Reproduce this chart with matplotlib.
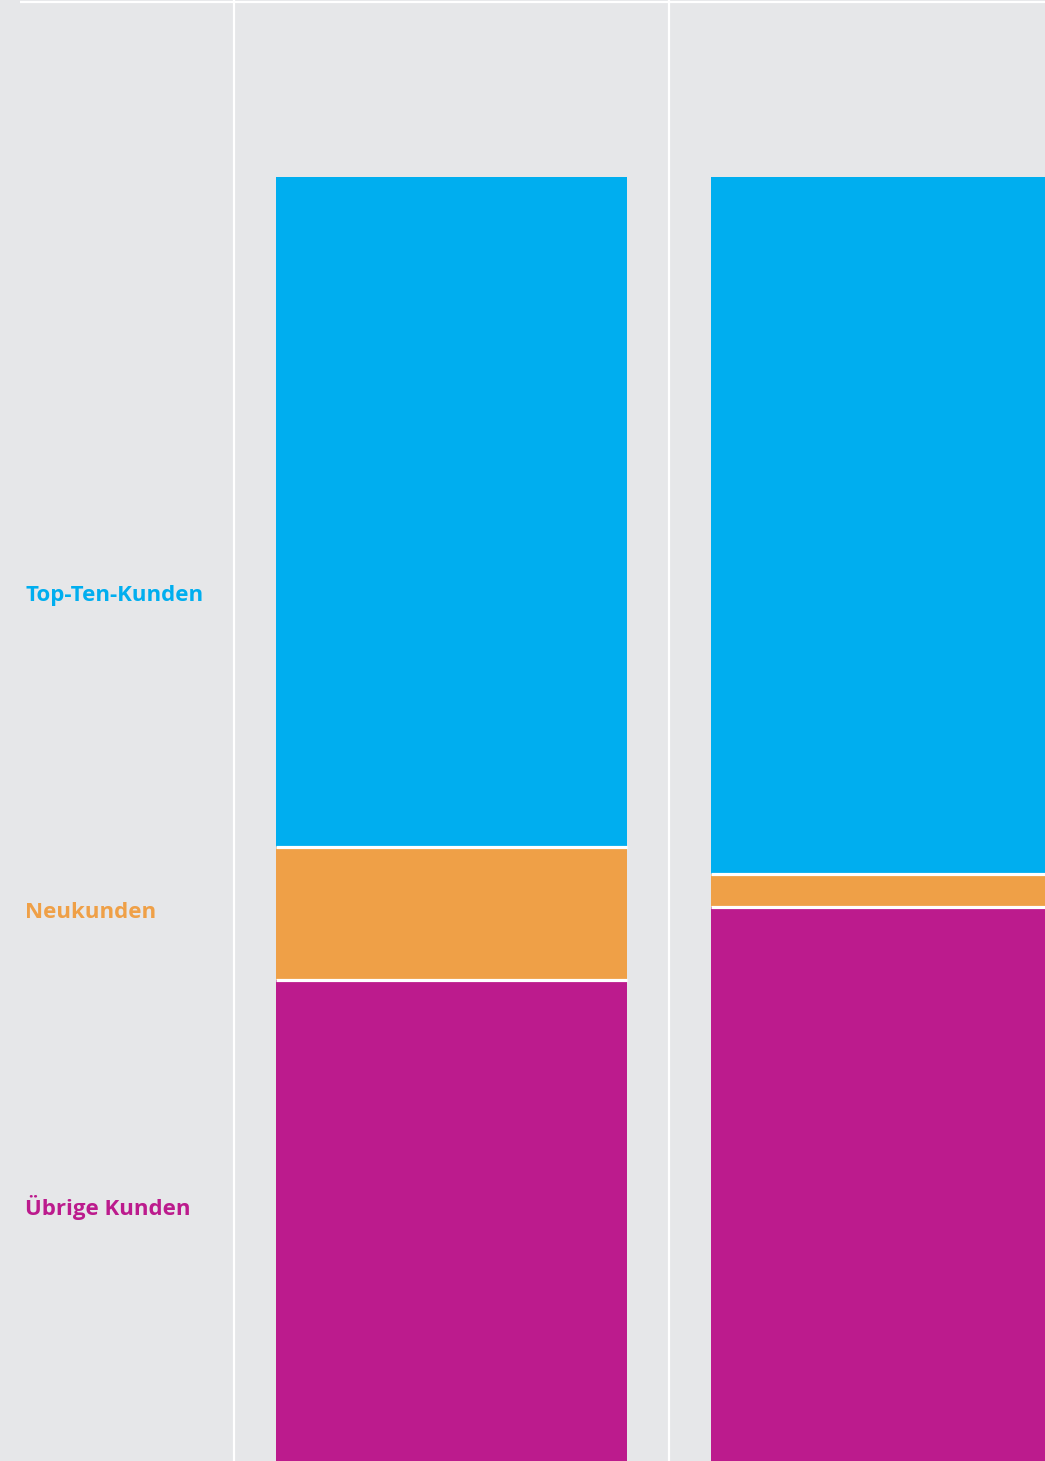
import matplotlib
matplotlib.use("Agg")
import matplotlib.pyplot as plt
import numpy as np

# Data (share in %, bars stacked from top downward)
periods = ["Jahr 1", "Jahr 2"]
top_ten = [47.1, 49.0]
neukunden = [9.3, 2.3]
uebrige = [43.6, 48.7]
labels = ["Top-Ten-Kunden", "Neukunden", "Übrige Kunden"]

colors = ["#00aeef", "#efa047", "#bc1b8d"]
bg = "#e6e7e9"

W, H = 1045, 1461
fig = plt.figure(figsize=(W / 100, H / 100), dpi=100)
fig.patch.set_facecolor(bg)
ax = fig.add_axes([0, 0, 1, 1])
ax.set_facecolor(bg)

x = np.arange(len(periods))
width = 0.807
series = [top_ten, neukunden, uebrige]
bottom = np.zeros(len(periods))
for vals, c in zip(series, colors):
    ax.bar(x, vals, width=width, bottom=bottom, color=c, edgecolor="none", zorder=2)
    bottom = bottom + np.array(vals)

# white separators between segments
for i in range(len(periods)):
    b1 = top_ten[i]
    b2 = top_ten[i] + neukunden[i]
    ax.hlines([b1, b2], x[i] - width / 2, x[i] + width / 2, colors="white", linewidth=2.3, zorder=3)

# layout
ax.set_xlim(-1.038, 1.364)
ax.set_ylim(90.23, -12.44)
for xv in [-0.5, 0.5]:
    ax.axvline(xv, color="white", linewidth=1.6, zorder=1)
ax.hlines(-12.32, -0.992, 1.364, colors="white", linewidth=1.6, zorder=1)
ax.axis("off")

label_y = [595, 912, 1208]
for lab, c, py in zip(labels, colors, label_y):
    fig.text(25 / W, 1 - py / H, lab, color=c, fontsize=16, fontweight="bold",
             family="Open Sans", ha="left", va="center")

fig.savefig("out.png", dpi=100, facecolor=bg)
